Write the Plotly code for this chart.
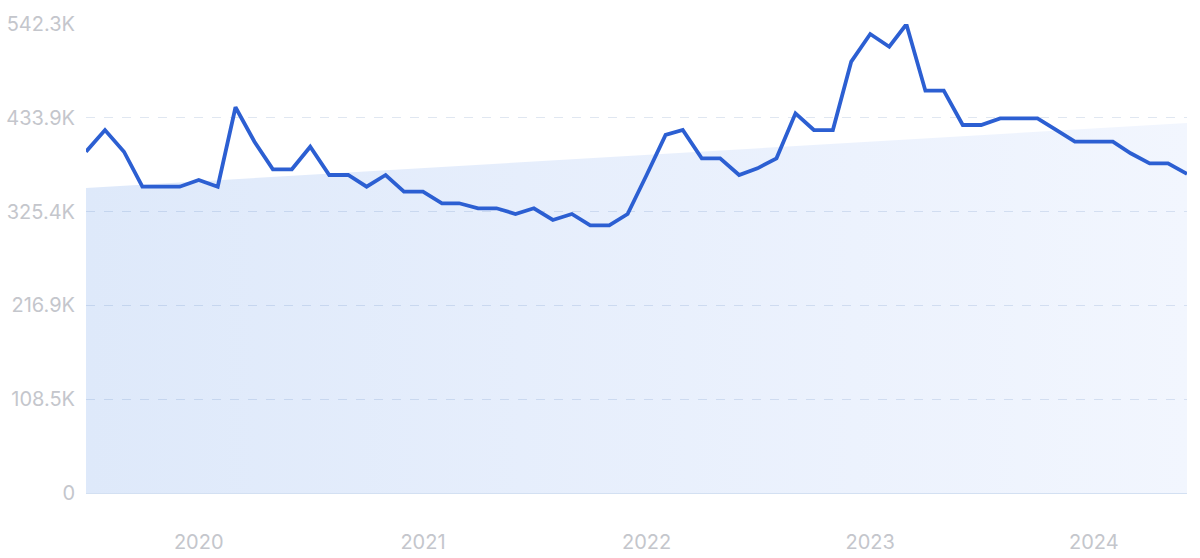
import plotly.graph_objects as go
import pandas as pd

months = pd.date_range("2019-07-01", "2024-06-01", freq="MS").strftime("%Y-%m-%d").tolist()

traffic = [
    394600, 419700, 394600, 354200, 354200, 354200,            # 2019 Jul-Dec
    361900, 354200, 446000, 406200, 374300, 374300,            # 2020
    400400, 367700, 367700, 354200, 367700, 348400,
    348400, 335000, 335000, 329200, 329200, 322600,            # 2021
    329200, 315700, 322600, 309500, 309500, 322600,
    367700, 414000, 419700, 387000, 387000, 367700,            # 2022
    375400, 387000, 439000, 419700, 419700, 498800,
    530700, 516000, 542000, 465200, 465200, 425500,            # 2023
    425500, 433200, 433200, 433200, 419700, 406200,
    406200, 406200, 392800, 381200, 381200, 368900,            # 2024
]

trend_x = ["2019-07-01", "2024-06-01"]
trend_y = [352700, 427800]

y_tickvals = [0, 108460, 216920, 325380, 433840, 542300]
y_ticktext = ["0", "108.5K", "216.9K", "325.4K", "433.9K", "542.3K"]
x_tickvals = ["2020-01-01", "2021-01-01", "2022-01-01", "2023-01-01", "2024-01-01"]
x_ticktext = ["2020", "2021", "2022", "2023", "2024"]

fig = go.Figure()
fig.add_trace(go.Scatter(
    x=trend_x, y=trend_y, mode="lines", line=dict(width=0),
    fill="tozeroy",
    fillgradient=dict(type="horizontal",
                      colorscale=[[0, "rgba(35,108,222,0.15)"],
                                  [1, "rgba(38,105,238,0.06)"]]),
    hoverinfo="skip", showlegend=False,
))
fig.add_trace(go.Scatter(
    x=months, y=traffic, mode="lines",
    line=dict(color="#2c5fd2", width=3.8),
    showlegend=False,
))

fig.update_layout(
    width=1200, height=558,
    margin=dict(l=86, r=13, t=24, b=65),
    plot_bgcolor="white", paper_bgcolor="white",
    font=dict(family="Inter", size=20, color="#c4c6cc"),
    xaxis=dict(
        range=["2019-07-01", "2024-06-01"],
        tickvals=x_tickvals, ticktext=x_ticktext,
        showgrid=False, zeroline=False,
        showline=True, linecolor="#d3e0f2", linewidth=1,
        ticks="", ticklabelstandoff=31,
        layer="above traces", automargin=False,
    ),
    yaxis=dict(
        range=[0, 542300],
        tickvals=y_tickvals, ticktext=y_ticktext,
        showgrid=True, gridcolor="#e0e7f1", gridwidth=1, griddash="dash",
        zeroline=False, showline=False,
        ticks="", ticklabelstandoff=10, automargin=False,
    ),
)

fig.write_html("out.html",
               config={"displayModeBar": False},
               post_script="document.body.style.margin='0';document.body.style.overflow='hidden';")
